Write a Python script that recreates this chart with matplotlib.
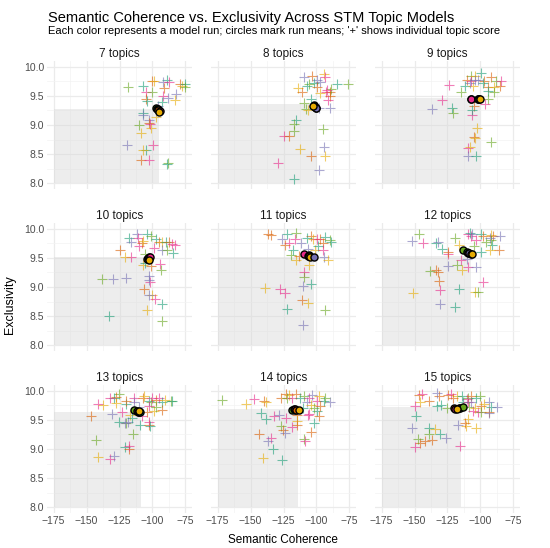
import matplotlib
matplotlib.use("Agg")
import matplotlib.pyplot as plt
from matplotlib.patches import Rectangle

plt.rcParams['font.family'] = ['Liberation Sans', 'DejaVu Sans']

# run colours (Dark2): t teal, o orange, p purple, k pink, g green, y yellow
run_colors = {'t': '#1B9E77', 'o': '#D95F02', 'p': '#7570B3',
              'k': '#E7298A', 'g': '#66A61E', 'y': '#E6AB02'}

n_topics = [7, 8, 9, 10, 11, 12, 13, 14, 15]

# individual topic scores per panel: (coherence, exclusivity, run)
pts7 = [(-118.3, 9.66, 'g'), (-107, 9.67, 't'), (-100, 9.75, 'o'), (-98.5, 9.75, 'y'),
        (-89.3, 9.77, 't'), (-92, 9.74, 'p'), (-87.5, 9.74, 'k'), (-79, 9.71, 'o'),
        (-77.5, 9.67, 'y'), (-75, 9.71, 't'), (-75.5, 9.66, 'g'), (-91, 9.63, 'o'),
        (-105, 9.57, 'k'), (-100, 9.57, 'g'), (-82, 9.54, 'p'), (-105, 9.44, 'o'),
        (-104.5, 9.42, 't'), (-92, 9.49, 'k'), (-88, 9.46, 'p'), (-83, 9.43, 'y'),
        (-93, 9.40, 't'), (-95.5, 9.33, 'p'), (-106.8, 9.21, 't'), (-107.5, 9.17, 'p'),
        (-97, 9.14, 'y'), (-102.5, 9.08, 'p'), (-110.5, 9.00, 'g'), (-103, 9.03, 'o'),
        (-101, 8.95, 'y'), (-102, 9.01, 'k'), (-109, 8.86, 'y'), (-119.5, 8.65, 'p'),
        (-99.5, 8.66, 'k'), (-105, 8.57, 't'), (-107.5, 8.57, 'y'), (-108.8, 8.39, 'o'),
        (-102.5, 8.39, 'k'), (-88.3, 8.34, 'g'), (-89.3, 8.33, 't')]
pts8 = [(-109.5, 9.83, 'p'), (-103.3, 9.84, 'o'), (-94.5, 9.87, 'y'), (-93.8, 9.82, 'k'),
        (-99.5, 9.77, 'p'), (-97, 9.74, 'p'), (-101.5, 9.72, 't'), (-105.8, 9.71, 'g'),
        (-107, 9.67, 't'), (-114, 9.63, 'y'), (-110.8, 9.57, 'o'), (-84.5, 9.70, 't'),
        (-75.8, 9.70, 'g'), (-99.5, 9.65, 'o'), (-93, 9.57, 'k'), (-89.5, 9.57, 'o'),
        (-97, 9.55, 'y'), (-89.5, 9.49, 'o'), (-91.3, 9.43, 'k'), (-104.5, 9.45, 't'),
        (-109.5, 9.37, 'g'), (-98.3, 9.30, 'p'), (-90, 9.29, 'p'), (-107.8, 9.27, 'g'),
        (-106.3, 9.26, 'y'), (-115.8, 9.09, 't'), (-117, 9.02, 'g'), (-116.8, 8.90, 'g'),
        (-95.3, 8.93, 'g'), (-124.5, 8.81, 'k'), (-120.8, 8.81, 'o'), (-94, 8.63, 'p'),
        (-112.5, 8.59, 'y'), (-104.5, 8.47, 'o'), (-93.3, 8.46, 'y'), (-128.8, 8.34, 'k'),
        (-98.3, 8.23, 'p'), (-117, 8.07, 't'), (-89, 9.62, 'g'), (-92, 9.60, 'k')]
pts9 = [(-99.3, 9.89, 't'), (-107.3, 9.84, 'g'), (-104.3, 9.84, 'y'), (-110.5, 9.78, 'o'),
        (-107.3, 9.76, 'k'), (-104.3, 9.77, 'p'), (-101.5, 9.77, 'p'), (-97.3, 9.75, 'o'),
        (-92.3, 9.82, 'o'), (-88, 9.75, 'g'), (-84.3, 9.75, 'k'), (-123.5, 9.68, 'k'),
        (-111.8, 9.67, 't'), (-105.5, 9.67, 'y'), (-94.3, 9.65, 'o'), (-89.8, 9.65, 'y'),
        (-84.8, 9.67, 'o'), (-89.8, 9.57, 'g'), (-94.3, 9.58, 't'), (-114.8, 9.57, 'g'),
        (-129.3, 9.43, 'k'), (-136.8, 9.27, 'p'), (-121.8, 9.30, 't'), (-120.5, 9.21, 'g'),
        (-105, 9.33, 'o'), (-106.3, 9.17, 'k'), (-106.3, 9.26, 't'), (-102.5, 8.94, 'y'),
        (-105, 8.79, 'o'), (-104.5, 8.77, 'y'), (-109.3, 8.60, 'k'), (-108, 8.62, 'y'),
        (-109.8, 8.46, 'p'), (-103, 8.46, 't'), (-91.8, 8.70, 'g'), (-94.3, 9.44, 'g'),
        (-96.8, 9.36, 'k'), (-108, 9.73, 'p'), (-98, 9.72, 't')]
pts10 = [(-112, 9.91, 'p'), (-104.5, 9.91, 't'), (-117.5, 9.84, 't'), (-116.3, 9.78, 'p'),
         (-111.3, 9.84, 'k'), (-110, 9.70, 'k'), (-108, 9.75, 'o'), (-107.5, 9.79, 'y'),
         (-101.3, 9.87, 'g'), (-97.5, 9.82, 't'), (-95, 9.78, 'o'), (-92.5, 9.78, 'y'),
         (-89.5, 9.78, 't'), (-87.5, 9.78, 'o'), (-85, 9.74, 'k'), (-83, 9.72, 'k'),
         (-92.5, 9.64, 'p'), (-98.8, 9.67, 'k'), (-89.3, 9.64, 'g'), (-84.5, 9.59, 't'),
         (-125, 9.64, 'o'), (-116.3, 9.51, 'k'), (-120.5, 9.52, 'y'), (-107.5, 9.38, 'y'),
         (-105.8, 9.41, 't'), (-94.3, 9.40, 'k'), (-93.8, 9.30, 'g'), (-101, 9.36, 'o'),
         (-102.5, 9.19, 'p'), (-102, 9.09, 'k'), (-102.5, 9.12, 'p'), (-120, 9.15, 'p'),
         (-130, 9.13, 'p'), (-138.3, 9.13, 'g'), (-106.3, 8.96, 'o'), (-100, 8.86, 'y'),
         (-102.5, 8.87, 'p'), (-98.3, 8.80, 'k'), (-93, 8.70, 't'), (-104.3, 8.60, 'y'),
         (-92.5, 8.41, 'g'), (-133, 8.51, 't'), (-106, 9.56, 'g')]
pts11 = [(-137, 9.91, 'o'), (-134.5, 9.90, 'o'), (-122, 9.91, 't'), (-115.8, 9.93, 'g'),
         (-120.8, 9.76, 'k'), (-125.8, 9.82, 'p'), (-123.8, 9.72, 'o'), (-116.5, 9.82, 'k'),
         (-119.5, 9.55, 'g'), (-117.5, 9.64, 't'), (-111.5, 9.76, 'p'), (-104.5, 9.88, 'o'),
         (-102.8, 9.82, 'y'), (-107, 9.85, 't'), (-93.3, 9.86, 't'), (-89.5, 9.81, 'g'),
         (-88.8, 9.77, 't'), (-97, 9.82, 'o'), (-99.5, 9.82, 'k'), (-95.3, 9.76, 'o'),
         (-106.5, 9.65, 'p'), (-100.8, 9.64, 'y'), (-98.8, 9.70, 't'), (-94.8, 9.64, 'k'),
         (-115.8, 9.47, 'y'), (-113.3, 9.53, 'o'), (-94, 9.52, 'p'), (-91.3, 9.47, 'y'),
         (-105.8, 9.38, 'y'), (-109.3, 9.25, 'k'), (-109.5, 9.18, 'g'), (-110.5, 9.02, 'p'),
         (-104, 9.06, 't'), (-139, 8.99, 'y'), (-127.8, 8.96, 'k'), (-123.8, 8.89, 'k'),
         (-110.8, 8.78, 'o'), (-106.3, 8.72, 'y'), (-122.5, 8.63, 't'), (-93.8, 8.60, 'g'),
         (-110, 8.34, 'p')]
pts12 = [(-146.8, 9.91, 'g'), (-151.8, 9.79, 'p'), (-143.8, 9.76, 'k'), (-133.5, 9.75, 't'),
         (-132.5, 9.78, 'p'), (-129.3, 9.65, 't'), (-124.3, 9.57, 'k'), (-124.3, 9.61, 'o'),
         (-119.3, 9.84, 'g'), (-116.3, 9.72, 'y'), (-109.3, 9.91, 'k'), (-107.5, 9.87, 'k'),
         (-108, 9.93, 't'), (-106.3, 9.91, 'p'), (-99.3, 9.91, 't'), (-103, 9.81, 'k'),
         (-98, 9.87, 'o'), (-91.8, 9.90, 'y'), (-90.5, 9.87, 'o'), (-95.5, 9.78, 'g'),
         (-91.8, 9.81, 'g'), (-93, 9.84, 'p'), (-85.5, 9.88, 'p'), (-91.3, 9.72, 't'),
         (-86.3, 9.64, 'o'), (-93, 9.63, 'y'), (-114.8, 9.47, 'k'), (-110.5, 9.48, 'p'),
         (-124.3, 9.36, 'p'), (-118, 9.38, 'g'), (-114.3, 9.29, 'y'), (-109.3, 9.35, 'k'),
         (-103, 9.35, 'p'), (-138.5, 9.28, 'g'), (-133.5, 9.29, 'o'), (-132.5, 9.25, 'o'),
         (-131.8, 9.10, 'o'), (-131, 8.94, 'k'), (-131, 8.71, 'p'), (-119.3, 8.66, 't'),
         (-116.3, 8.96, 't'), (-151.3, 8.90, 'y'), (-103.8, 8.92, 'y'), (-101.8, 8.92, 'g'),
         (-98, 9.09, 'k'), (-99.3, 9.61, 't'), (-105, 9.70, 'g')]
pts13 = [(-125.5, 9.94, 'g'), (-127.5, 9.90, 'o'), (-128.8, 9.87, 't'), (-132, 9.87, 'k'),
         (-141.3, 9.77, 'k'), (-137.5, 9.75, 'y'), (-127.5, 9.79, 'y'), (-120, 9.77, 't'),
         (-120, 9.83, 'o'), (-113.8, 9.87, 'k'), (-107.5, 9.88, 'o'), (-106.3, 9.91, 'y'),
         (-113.8, 9.80, 'p'), (-102.5, 9.83, 't'), (-101.3, 9.80, 'g'), (-100, 9.88, 'k'),
         (-97.5, 9.85, 'o'), (-95, 9.88, 'k'), (-92.5, 9.80, 't'), (-90.5, 9.85, 'y'),
         (-86.3, 9.83, 'g'), (-85, 9.83, 't'), (-92.5, 9.67, 'o'), (-102.5, 9.74, 'k'),
         (-98.8, 9.65, 'y'), (-130.8, 9.61, 'p'), (-123, 9.63, 'k'), (-125.5, 9.46, 't'),
         (-120, 9.44, 'g'), (-118.3, 9.46, 'p'), (-146.3, 9.57, 'o'), (-109.3, 9.42, 't'),
         (-102.5, 9.42, 'o'), (-102.5, 9.46, 'k'), (-102, 9.40, 't'), (-115, 9.25, 'g'),
         (-120.5, 9.04, 't'), (-117.5, 9.00, 'o'), (-117.5, 9.06, 'k'), (-142.5, 9.16, 'g'),
         (-141.3, 8.87, 'y'), (-132.5, 8.82, 'k'), (-128.8, 8.88, 'p'), (-116.8, 9.58, 'y'),
         (-115.5, 9.54, 't'), (-110, 9.72, 'p'), (-97, 9.73, 'g'), (-108, 9.57, 'k'),
         (-104, 9.64, 'o'), (-121, 9.45, 'p')]
pts14 = [(-172, 9.84, 'g'), (-153.3, 9.77, 'y'), (-147, 9.86, 'k'), (-139.5, 9.83, 'o'),
         (-138.5, 9.80, 'y'), (-142, 9.62, 't'), (-138.3, 9.52, 't'), (-132, 9.57, 'k'),
         (-128.3, 9.58, 'p'), (-123.3, 9.94, 'o'), (-120.8, 9.93, 'y'), (-127, 9.88, 'o'),
         (-122, 9.88, 'g'), (-118.3, 9.88, 'k'), (-115.8, 9.94, 'o'), (-112.5, 9.88, 't'),
         (-109.5, 9.91, 'g'), (-105.3, 9.87, 'k'), (-103.3, 9.93, 'p'), (-99.5, 9.83, 'k'),
         (-94.5, 9.83, 't'), (-98.3, 9.91, 'y'), (-89.5, 9.80, 'p'), (-93.8, 9.88, 'g'),
         (-107, 9.80, 'p'), (-105.8, 9.61, 'k'), (-106.3, 9.59, 'k'), (-99.5, 9.65, 't'),
         (-97, 9.74, 'o'), (-98.3, 9.57, 'o'), (-123.3, 9.54, 'k'), (-114.5, 9.59, 'o'),
         (-114.5, 9.48, 'y'), (-127, 9.40, 'g'), (-114.5, 9.42, 'o'), (-101.5, 9.45, 't'),
         (-118.3, 9.37, 'k'), (-125.3, 9.33, 'o'), (-123.8, 9.28, 'p'), (-134.5, 9.19, 'k'),
         (-137, 9.13, 'p'), (-143.8, 9.25, 'o'), (-109.5, 9.17, 'g'), (-108.8, 9.13, 'k'),
         (-103.8, 9.30, 'o'), (-132.8, 9.00, 't'), (-140.8, 8.84, 'y'), (-126.3, 8.81, 't'),
         (-110, 9.70, 't'), (-104, 9.76, 'y'), (-102, 9.70, 'g')]
pts15 = [(-146.8, 9.92, 'o'), (-144.3, 9.94, 'k'), (-139.3, 9.83, 'o'), (-131.8, 9.91, 'o'),
         (-133, 9.96, 'p'), (-133, 9.74, 't'), (-130, 9.75, 't'), (-145.5, 9.81, 'y'),
         (-149.3, 9.74, 'k'), (-148.8, 9.57, 't'), (-125.5, 9.71, 'g'), (-124.3, 9.92, 'o'),
         (-122.3, 9.94, 'k'), (-118, 9.91, 'y'), (-114.3, 9.91, 't'), (-120.5, 9.87, 'o'),
         (-110.5, 9.86, 'k'), (-109.3, 9.87, 'g'), (-106.8, 9.91, 'o'), (-103, 9.88, 't'),
         (-100.5, 9.91, 'g'), (-113, 9.80, 't'), (-109.8, 9.80, 'k'), (-107.3, 9.80, 'p'),
         (-108.8, 9.73, 'g'), (-101.8, 9.64, 'k'), (-99.3, 9.74, 'o'), (-93.8, 9.80, 'p'),
         (-92.3, 9.73, 't'), (-87.3, 9.73, 'p'), (-99.3, 9.63, 'g'), (-93.8, 9.63, 'o'),
         (-93.8, 9.62, 'p'), (-105.5, 9.66, 'k'), (-109.8, 9.52, 'y'), (-111, 9.39, 'y'),
         (-111.8, 9.45, 'o'), (-103, 9.36, 'y'), (-116.8, 9.42, 'p'), (-151.8, 9.36, 'p'),
         (-138.8, 9.36, 't'), (-139.3, 9.25, 'g'), (-130.5, 9.25, 't'), (-136.8, 9.16, 'o'),
         (-141.8, 9.13, 'o'), (-145.5, 9.11, 'o'), (-147.5, 9.17, 'g'), (-134.3, 9.34, 'y'),
         (-126.3, 9.19, 'p'), (-149.3, 9.04, 'k'), (-115.5, 9.06, 'k'), (-104, 9.71, 'y'),
         (-97, 9.77, 'y')]

# run means per panel: (coherence, exclusivity, run)
means7 = [(-97.5, 9.29, 'g'), (-96.5, 9.28, 'p'), (-96, 9.27, 't'), (-95.5, 9.25, 'o'),
          (-94.5, 9.24, 'k'), (-95, 9.23, 'y')]
means8 = [(-102, 9.34, 'g'), (-101.5, 9.33, 't'), (-101, 9.31, 'o'), (-100.5, 9.30, 'k'),
          (-100, 9.30, 'p'), (-102.5, 9.32, 'y')]
means9 = [(-106.8, 9.44, 'p'), (-107.3, 9.45, 'k'), (-101.8, 9.45, 'o'), (-101.5, 9.44, 't'),
          (-100.8, 9.44, 'g'), (-100.3, 9.45, 'y')]
means10 = [(-104, 9.48, 'g'), (-103.5, 9.49, 't'), (-103, 9.50, 'o'), (-102.5, 9.51, 'p'),
           (-102, 9.52, 'k'), (-102.5, 9.47, 'y')]
means11 = [(-109.5, 9.56, 'k'), (-106.5, 9.54, 't'), (-106, 9.55, 'g'), (-105.5, 9.53, 'o'),
           (-105, 9.52, 'y'), (-101.5, 9.51, 'p')]
means12 = [(-113.5, 9.63, 'g'), (-110, 9.61, 't'), (-109.3, 9.59, 'k'), (-108.5, 9.58, 'p'),
           (-107.5, 9.57, 'o'), (-106.3, 9.56, 'y')]
means13 = [(-114, 9.67, 'g'), (-112, 9.65, 'k'), (-111, 9.64, 'p'), (-110.5, 9.63, 'o'),
           (-109.3, 9.64, 't'), (-110.3, 9.65, 'y')]
means14 = [(-118.8, 9.67, 'g'), (-117, 9.68, 't'), (-116.5, 9.67, 'p'), (-116, 9.68, 'k'),
           (-115.8, 9.67, 'o'), (-113.3, 9.67, 'y')]
means15 = [(-116.5, 9.70, 'p'), (-115.5, 9.71, 't'), (-113.5, 9.72, 'g'), (-120, 9.70, 'o'),
           (-119, 9.69, 'k'), (-117.5, 9.68, 'y')]

# overall averages per panel (upper-right corner of the shaded region)
avg_coherence = [-95, -99.5, -100, -101.8, -101.8, -106.8, -108.8, -114, -114.8]
avg_exclusivity = [9.27, 9.36, 9.46, 9.51, 9.51, 9.53, 9.63, 9.68, 9.73]

all_pts = [pts7, pts8, pts9, pts10, pts11, pts12, pts13, pts14, pts15]
all_means = [means7, means8, means9, means10, means11, means12, means13, means14, means15]

fig, axes = plt.subplots(3, 3, figsize=(5.5, 5.48), dpi=100, sharex=True, sharey=True)
fig.subplots_adjust(left=47 / 550, right=520 / 550, top=1 - 61 / 548, bottom=1 - 513 / 548,
                    wspace=0.131, hspace=0.266)

for i, ax in enumerate(axes.flat):
    pts = all_pts[i]
    means = all_means[i]
    ax.add_patch(Rectangle((-175, 8.0), avg_coherence[i] + 175, avg_exclusivity[i] - 8.0,
                           facecolor='#d9d9d9', alpha=0.45, edgecolor='none', zorder=1))
    for x, y, r in pts:
        ax.plot(x, y, marker='+', color=run_colors[r], alpha=0.6, markersize=6.5,
                markeredgewidth=0.8, linestyle='none', zorder=2)
    for x, y, r in means:
        ax.scatter(x, y, s=26, color=run_colors[r], edgecolors='black', linewidths=1.0, zorder=3)

    ax.set_title(f"{n_topics[i]} topics", fontsize=8.5, pad=3, color='#1a1a1a')
    ax.set_xlim(-180, -70)
    ax.set_ylim(7.9, 10.1)
    ax.set_xticks([-175, -150, -125, -100, -75])
    ax.set_xticks([-162.5, -137.5, -112.5, -87.5], minor=True)
    ax.set_yticks([8.0, 8.5, 9.0, 9.5, 10.0])
    ax.set_yticks([8.25, 8.75, 9.25, 9.75], minor=True)
    ax.set_yticklabels(['8.0', '8.5', '9.0', '9.5', '10.0'])
    ax.grid(which='major', color='#ebebeb', linewidth=0.9)
    ax.grid(which='minor', color='#f3f3f3', linewidth=0.5)
    ax.set_axisbelow(True)
    for s in ax.spines.values():
        s.set_visible(False)
    ax.tick_params(which='both', length=0, labelsize=7.5, labelcolor='#4d4d4d', pad=2)

fig.text(48 / 550, 1 - 18 / 548, "Semantic Coherence vs. Exclusivity Across STM Topic Models",
         fontsize=10.5, va='center', ha='left')
fig.text(48 / 550, 1 - 31.5 / 548,
         "Each color represents a model run; circles mark run means; '+' shows individual topic score",
         fontsize=8.0, va='center', ha='left')
fig.text(10 / 550, 1 - 305 / 548, "Exclusivity", rotation=90, fontsize=9, va='center', ha='center')
fig.text(283 / 550, 1 - 540 / 548, "Semantic Coherence", fontsize=8.5, va='center', ha='center')

fig.savefig("out.png", dpi=100, facecolor='white')
